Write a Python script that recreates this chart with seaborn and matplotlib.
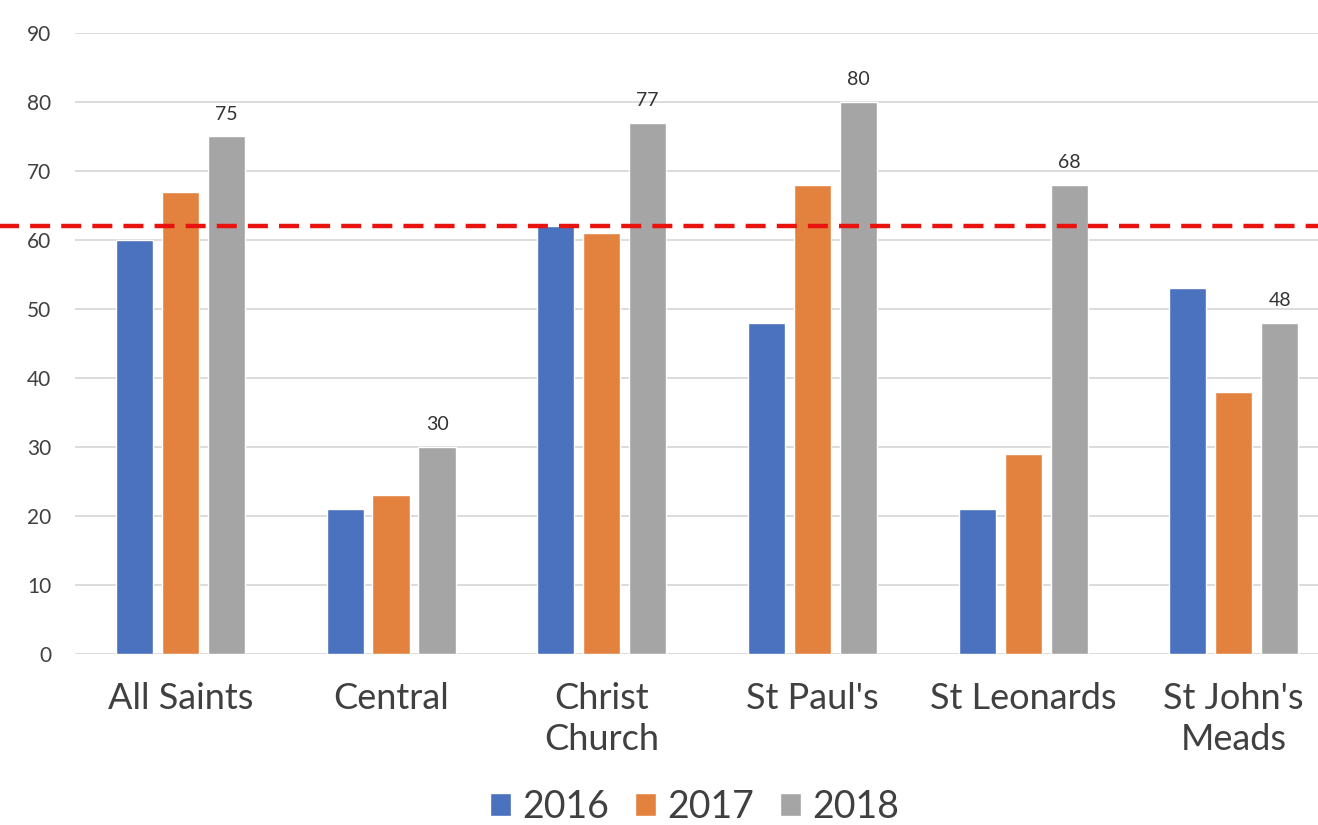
import pandas as pd
import matplotlib.pyplot as plt
import seaborn as sns
from matplotlib.patches import Patch

# Chart data
sites = ["All Saints", "Central", "Christ\nChurch", "St Paul's", "St Leonards", "St John's\nMeads"]
years = ["2016", "2017", "2018"]
vals_2016 = [60, 21, 62, 48, 21, 53]
vals_2017 = [67, 23, 61, 68, 29, 38]
vals_2018 = [75, 30, 77, 80, 68, 48]
target = 62
y_ticks = [0, 10, 20, 30, 40, 50, 60, 70, 80, 90]

colors = ["#4A72BE", "#E3823F", "#A5A5A5"]

df = pd.DataFrame({
    "site": sites * 3,
    "year": [y for y in years for _ in sites],
    "value": vals_2016 + vals_2017 + vals_2018,
})

sns.set_theme(style="white")
plt.rcParams["font.family"] = ["Lato", "DejaVu Sans"]

fig = plt.figure(figsize=(13.18, 8.25), dpi=100)
ax = fig.add_axes([0.0569, 0.2073, 0.9431, 0.7527])

sns.barplot(data=df, x="site", y="value", hue="year", order=sites,
            hue_order=years, palette=colors, width=0.655, gap=0.195,
            saturation=1, ax=ax, legend=False)

# value labels on the 2018 bars only
ax.bar_label(ax.containers[2], labels=[str(v) for v in vals_2018],
             padding=10, fontsize=14, color="#333333")

# target line
ax.axhline(target, xmin=-0.061, xmax=1, color="#E8130F", lw=3.2,
           ls=(0, (4.5, 2.5)), clip_on=False, zorder=5)

ax.set_ylim(0, 90)
ax.set_xlim(-0.5, 5.40)
ax.set_yticks(y_ticks)
ax.yaxis.grid(True, color="#D9D9D9", lw=1.3)
ax.set_axisbelow(True)
sns.despine(ax=ax, left=True, bottom=True, top=True, right=True)
ax.tick_params(axis="y", length=0, pad=17, labelsize=15, labelcolor="#404040")
ax.tick_params(axis="x", length=0, pad=20, labelsize=26, labelcolor="#404040")
for lbl in ax.get_xticklabels():
    lbl.set_linespacing(1.32)
ax.set_xlabel("")
ax.set_ylabel("")

handles = [Patch(facecolor=c, label=y) for c, y in zip(colors, years)]
fig.legend(handles=handles, loc="center", bbox_to_anchor=(0.527, 0.022),
           ncol=3, frameon=False, fontsize=27, handlelength=0.55,
           handleheight=0.55, handletextpad=0.3, columnspacing=0.7,
           labelcolor="#404040")

fig.savefig("out.png", dpi=100)
